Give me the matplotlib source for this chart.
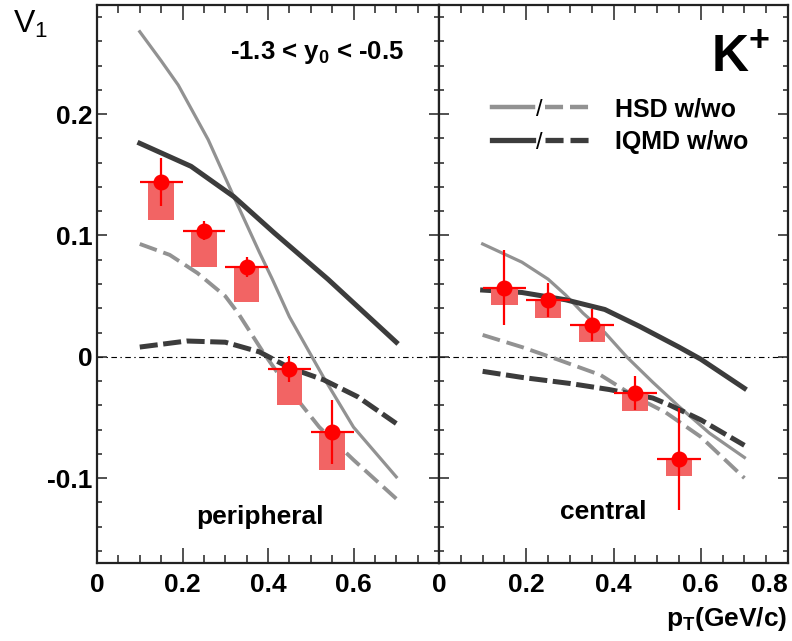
import matplotlib
matplotlib.use('Agg')
import matplotlib.pyplot as plt
from matplotlib.patches import Rectangle
from matplotlib.ticker import MultipleLocator, FixedLocator

plt.rcParams['font.family'] = ['Liberation Sans', 'DejaVu Sans']
plt.rcParams['mathtext.fontset'] = 'custom'
plt.rcParams['mathtext.rm'] = 'Liberation Sans'
plt.rcParams['mathtext.bf'] = 'Liberation Sans:bold'
plt.rcParams['mathtext.it'] = 'Liberation Sans:italic'
plt.rcParams['lines.scale_dashes'] = False

# data: K+ v1 vs pT, measured points (5 bins)
pt = [0.15, 0.25, 0.35, 0.45, 0.55]
per_v1 = [0.144, 0.104, 0.074, -0.010, -0.062]
per_err = [0.020, 0.008, 0.008, 0.011, 0.026]
per_sys = [0.031, 0.030, 0.029, 0.030, 0.031]
cen_v1 = [0.057, 0.047, 0.026, -0.030, -0.084]
cen_err = [0.031, 0.014, 0.013, 0.014, 0.042]
cen_sys = [0.014, 0.015, 0.014, 0.015, 0.014]
pt_xerr = 0.05
box_half = 0.03

# model curves, peripheral
per_hsd_w_x = [0.10, 0.15, 0.19, 0.26, 0.32, 0.38, 0.41, 0.45, 0.53, 0.60, 0.70]
per_hsd_w_y = [0.268, 0.244, 0.224, 0.179, 0.132, 0.086, 0.064, 0.033, -0.017, -0.058, -0.099]
per_hsd_wo_x = [0.10, 0.17, 0.235, 0.30, 0.33, 0.39, 0.45, 0.52, 0.60, 0.70]
per_hsd_wo_y = [0.093, 0.084, 0.069, 0.050, 0.036, 0.003, -0.027, -0.058, -0.085, -0.117]
per_iqmd_w_x = [0.10, 0.22, 0.32, 0.415, 0.54, 0.70]
per_iqmd_w_y = [0.176, 0.157, 0.132, 0.102, 0.064, 0.012]
per_iqmd_wo_x = [0.10, 0.21, 0.30, 0.38, 0.45, 0.53, 0.61, 0.70]
per_iqmd_wo_y = [0.008, 0.013, 0.012, 0.004, -0.009, -0.019, -0.033, -0.055]

# model curves, central
cen_hsd_w_x = [0.10, 0.19, 0.25, 0.29, 0.33, 0.38, 0.43, 0.49, 0.55, 0.62, 0.70]
cen_hsd_w_y = [0.093, 0.078, 0.064, 0.051, 0.036, 0.020, 0.0, -0.021, -0.041, -0.063, -0.083]
cen_hsd_wo_x = [0.10, 0.19, 0.27, 0.37, 0.45, 0.52, 0.60, 0.70]
cen_hsd_wo_y = [0.018, 0.008, -0.002, -0.015, -0.033, -0.046, -0.066, -0.100]
cen_iqmd_w_x = [0.10, 0.19, 0.29, 0.38, 0.46, 0.55, 0.60, 0.70]
cen_iqmd_w_y = [0.055, 0.053, 0.047, 0.039, 0.025, 0.008, -0.002, -0.026]
cen_iqmd_wo_x = [0.10, 0.19, 0.30, 0.39, 0.49, 0.53, 0.60, 0.70]
cen_iqmd_wo_y = [-0.012, -0.017, -0.022, -0.027, -0.034, -0.040, -0.052, -0.073]

light = '#929292'
dark = '#3c3c3c'
red = '#ff0000'

fig = plt.figure(figsize=(7.92, 6.41), dpi=100)
axL = fig.add_axes([0.1225, 0.1217, 0.4318, 0.8705])
axR = fig.add_axes([0.5543, 0.1217, 0.4407, 0.8705])


def panel(ax, v1, err, sys, curves):
    ax.plot([0, 0.8], [0, 0], color='black', lw=0.8, dashes=(4, 2.5, 1, 2.5), zorder=1)
    (hx, hy), (hwx, hwy), (ix, iy), (iwx, iwy) = curves
    ax.plot(hx, hy, color=light, lw=2.3, zorder=2)
    ax.plot(hwx, hwy, color=light, lw=2.8, dashes=(13, 5), zorder=2)
    ax.plot(ix, iy, color=dark, lw=3.6, zorder=2)
    ax.plot(iwx, iwy, color=dark, lw=3.6, dashes=(13, 4), zorder=2)
    for x, y, s in zip(pt, v1, sys):
        ax.add_patch(Rectangle((x - box_half, y - s), 2 * box_half, s,
                               facecolor='#f26464', edgecolor='none', zorder=3))
    ax.errorbar(pt, v1, yerr=err, xerr=pt_xerr, fmt='o', color=red, ms=10.5,
                elinewidth=1.6, capsize=0, zorder=4)
    ax.set_xlim(0, 0.8)
    ax.set_ylim(-0.17, 0.29)
    ax.xaxis.set_major_locator(MultipleLocator(0.2))
    ax.xaxis.set_minor_locator(MultipleLocator(0.05))
    ax.yaxis.set_major_locator(MultipleLocator(0.1))
    ax.yaxis.set_minor_locator(MultipleLocator(0.02))
    ax.tick_params(axis='both', which='both', direction='in', top=True, right=True,
                   width=1.1, color='#222222')
    ax.tick_params(axis='x', which='major', length=11, pad=7, labelsize=19)
    ax.tick_params(axis='x', which='minor', length=6)
    ax.tick_params(axis='y', which='major', length=7, pad=3, labelsize=19)
    ax.tick_params(axis='y', which='minor', length=3.5)
    for sp in ax.spines.values():
        sp.set_linewidth(1.6)
        sp.set_color('#222222')


panel(axL, per_v1, per_err, per_sys,
      [(per_hsd_w_x, per_hsd_w_y), (per_hsd_wo_x, per_hsd_wo_y),
       (per_iqmd_w_x, per_iqmd_w_y), (per_iqmd_wo_x, per_iqmd_wo_y)])
panel(axR, cen_v1, cen_err, cen_sys,
      [(cen_hsd_w_x, cen_hsd_w_y), (cen_hsd_wo_x, cen_hsd_wo_y),
       (cen_iqmd_w_x, cen_iqmd_w_y), (cen_iqmd_wo_x, cen_iqmd_wo_y)])

axL.xaxis.set_major_locator(FixedLocator([0, 0.2, 0.4, 0.6]))
axL.set_yticks([-0.1, 0, 0.1, 0.2])
axL.set_yticklabels(['-0.1', '0', '0.1', '0.2'], fontweight='bold', fontsize=19)
axL.set_xticklabels(['0', '0.2', '0.4', '0.6'], fontweight='bold', fontsize=19)
axR.set_xticks([0, 0.2, 0.4, 0.6, 0.8])
rlabs = axR.set_xticklabels(['0', '0.2', '0.4', '0.6', '0.8'], fontweight='bold', fontsize=19)
rlabs[-1].set_horizontalalignment('right')
axR.set_yticklabels([])

# texts
axL.text(0.389, 0.914, r'-1.3 < y$_\mathbf{0}$ < -0.5', transform=axL.transAxes,
         fontsize=18.5, fontweight='bold', ha='left', va='center')
axL.text(0.477, 0.082, 'peripheral', transform=axL.transAxes, fontsize=19,
         fontweight='bold', ha='center', va='center')
axR.text(0.47, 0.091, 'central', transform=axR.transAxes, fontsize=19,
         fontweight='bold', ha='center', va='center')
axR.text(0.78, 0.905, r'$\mathbf{K^{+}}$', transform=axR.transAxes, fontsize=37,
         ha='left', va='center')
fig.text(0.016, 0.962, r'$\mathrm{V_{1}}$', fontsize=23, ha='left', va='center')
fig.text(0.994, 0.034, r'$\mathbf{p_{T}(GeV/c)}$', fontsize=19, ha='right', va='center')

# legend drawn by hand
for yy, col, lab in [(0.817, light, 'HSD w/wo'), (0.758, dark, 'IQMD w/wo')]:
    lw = 3.2 if col == light else 3.8
    axR.plot([0.152, 0.269], [yy, yy], color=col, lw=lw, transform=axR.transAxes)
    axR.plot([0.304, 0.43], [yy, yy], color=col, lw=lw, dashes=(13, 5),
             transform=axR.transAxes)
    axR.text(0.287, yy - 0.006, '/', transform=axR.transAxes, fontsize=17, ha='center',
             va='center')
    axR.text(0.504, yy - 0.004, lab, transform=axR.transAxes, fontsize=18,
             fontweight='bold', ha='left', va='center')

fig.savefig('out.png', dpi=100)
